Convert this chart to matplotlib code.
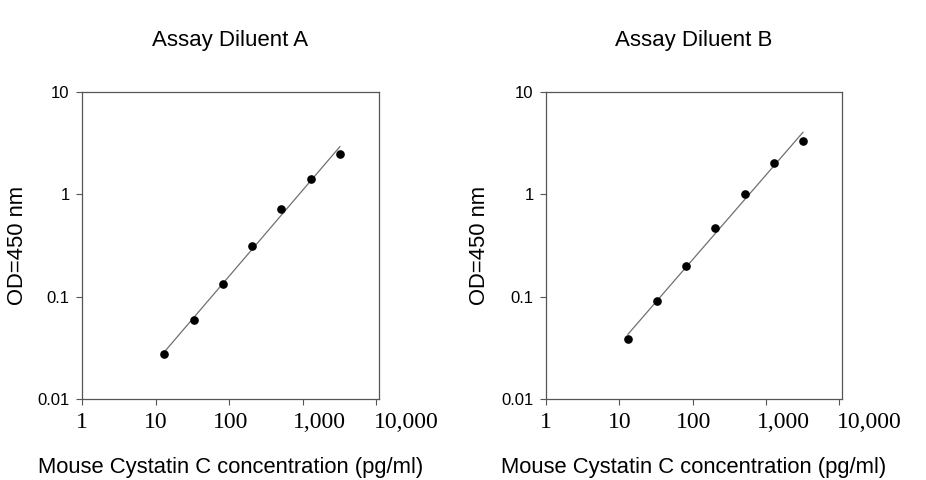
import numpy as np
import matplotlib
matplotlib.use("Agg")
import matplotlib.pyplot as plt
from matplotlib.transforms import ScaledTranslation

# concentraciones de la curva estándar (pg/ml)
conc = [13.1, 32.8, 81.9, 204.8, 512, 1280, 3200]
od_a = [0.0277, 0.0585, 0.132, 0.310, 0.718, 1.42, 2.47]
od_b = [0.0382, 0.0903, 0.198, 0.469, 1.00, 2.00, 3.30]

titles = ["Assay Diluent A", "Assay Diluent B"]
x_ticks = [1, 10, 100, 1000, 10000]
x_ticklabels = ["1", "10", "100", "1,000", "10,000"]
y_ticks = [0.01, 0.1, 1, 10]
y_ticklabels = ["0.01", "0.1", "1", "10"]

plt.rcParams["font.family"] = ["Liberation Sans", "DejaVu Sans"]

fig = plt.figure(figsize=(9.26, 4.8), dpi=100)
W, H = 926, 480
axes_px = [(82, 379), (546, 842)]
ylabel_px = [28, 490]
top_px, bot_px = 91.7, 399
# desplazamiento de las etiquetas con coma (px), como en el original
label_shift = [0, 0, 1, 17, 30]

for (x0, x1), yl, title, od in zip(axes_px, ylabel_px, titles, [od_a, od_b]):
    ax = fig.add_axes([x0 / W, (H - bot_px) / H, (x1 - x0) / W, (bot_px - top_px) / H])
    ax.set_xscale("log")
    ax.set_yscale("log")
    ax.set_xlim(1, 10900)
    ax.set_ylim(0.01, 10)

    # ajuste potencial en log-log
    lx, ly = np.log10(conc), np.log10(od)
    m, b = np.polyfit(lx, ly, 1)
    xf = np.array([min(conc), max(conc)])
    ax.plot(xf, 10 ** (m * np.log10(xf) + b), color="#707070", lw=0.9, zorder=2)
    ax.plot(conc, od, "o", color="black", ms=5.2, zorder=3)

    ax.set_xticks(x_ticks, x_ticklabels)
    ax.set_yticks(y_ticks, y_ticklabels)
    ax.minorticks_off()
    ax.tick_params(axis="x", direction="out", length=4, width=0.8, color="#555555", pad=5,
                   labelsize=17, labelfontfamily="Liberation Serif")
    ax.tick_params(axis="y", direction="out", length=4, width=0.8, color="#555555", pad=5,
                   labelsize=12)
    for sp in ax.spines.values():
        sp.set_color("#555555")
        sp.set_linewidth(0.9)

    for lab, dx in zip(ax.get_xticklabels(), label_shift):
        lab.set_transform(lab.get_transform() + ScaledTranslation(dx / 100, 0, fig.dpi_scale_trans))

    ax.set_title(title, fontsize=16, pad=33)
    ax.set_ylabel("OD=450 nm", fontsize=15.8)
    ax.yaxis.set_label_coords((yl - x0) / (x1 - x0), 0.5)
    ax.set_xlabel("Mouse Cystatin C concentration (pg/ml)", fontsize=15.8)
    ax.xaxis.set_label_coords(0.5, (bot_px - 457) / (bot_px - top_px))

fig.savefig("out.png", dpi=100)
